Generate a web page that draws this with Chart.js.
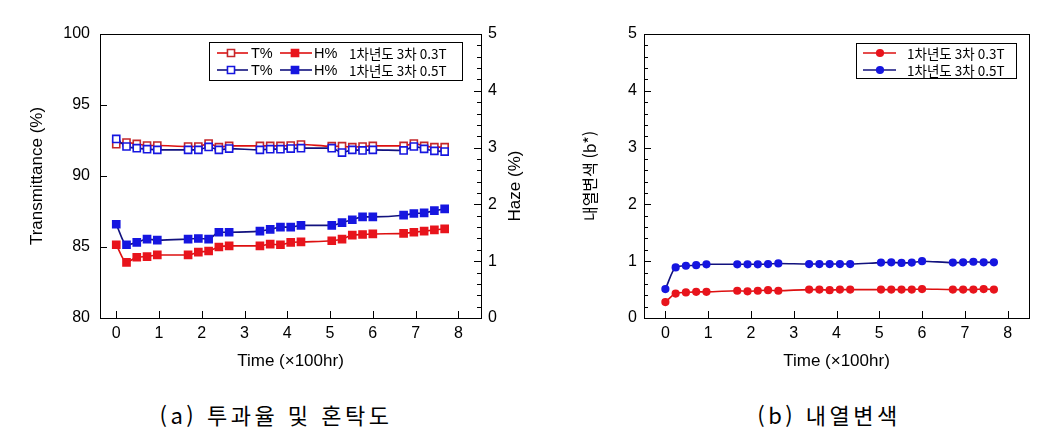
<!DOCTYPE html>
<html lang="ko">
<head>
<meta charset="UTF-8" />
<title>투과율 및 혼탁도 / 내열변색</title>
<script src="https://cdn.jsdelivr.net/npm/chart.js@4.4.0/dist/chart.umd.min.js"></script>
<style>
  body { margin: 0; background: #fff; width: 1052px; height: 446px; position: relative; overflow: hidden; }
  .box { position: absolute; top: 0; height: 380px; }
  .cap { position: absolute; top: 398px; font-family: "Noto Sans CJK KR"; font-size: 22px; letter-spacing: 3.5px;
         transform: translateX(-50%); white-space: nowrap; color: #000; }
</style>
</head>
<body>
<div class="box" style="left:0;width:540px"><canvas id="chartA"></canvas></div>
<div class="box" style="left:540px;width:512px"><canvas id="chartB"></canvas></div>
<div class="cap" style="left:276px">(a) 투과율 및 혼탁도</div>
<div class="cap" style="left:829px">(b) 내열변색</div>

<script>
// time in x100 hr
const time = [0, 0.24, 0.48, 0.72, 0.96, 1.68, 1.92, 2.16, 2.4, 2.64, 3.36, 3.6, 3.84, 4.08, 4.32,
              5.04, 5.28, 5.52, 5.76, 6.0, 6.72, 6.96, 7.2, 7.44, 7.68];
const seriesNames = ['1차년도 3차 0.3T', '1차년도 3차 0.5T'];

// (a) transmittance (%) and haze (%)
const trans03 = [92.24, 92.36, 92.26, 92.15, 92.15, 92.08, 92.08, 92.29, 92.03, 92.12, 92.12, 92.12, 92.12,
                 92.15, 92.22, 92.10, 92.10, 92.03, 92.08, 92.12, 92.12, 92.29, 92.12, 92.03, 92.03];
const trans05 = [92.61, 92.08, 91.96, 91.89, 91.84, 91.84, 91.84, 92.05, 91.84, 91.93, 91.84, 91.89, 91.89,
                 91.93, 91.96, 91.96, 91.65, 91.84, 91.80, 91.84, 91.80, 92.08, 91.91, 91.77, 91.72];
const haze03 = [1.29, 0.98, 1.07, 1.08, 1.11, 1.11, 1.16, 1.18, 1.25, 1.27, 1.27, 1.30, 1.29, 1.33, 1.34,
                1.36, 1.39, 1.46, 1.47, 1.48, 1.49, 1.51, 1.53, 1.55, 1.57];
const haze05 = [1.65, 1.29, 1.33, 1.39, 1.37, 1.39, 1.40, 1.39, 1.51, 1.51, 1.53, 1.56, 1.60, 1.60, 1.63,
                1.63, 1.68, 1.73, 1.78, 1.78, 1.81, 1.84, 1.85, 1.89, 1.92];

// (b) heat discoloration (b*)
const bstar03 = [0.28, 0.43, 0.45, 0.46, 0.46, 0.48, 0.47, 0.48, 0.49, 0.48, 0.50, 0.50, 0.49, 0.50, 0.50,
                 0.50, 0.50, 0.50, 0.50, 0.51, 0.50, 0.50, 0.50, 0.51, 0.50];
const bstar05 = [0.51, 0.89, 0.92, 0.93, 0.945, 0.945, 0.945, 0.945, 0.95, 0.96, 0.95, 0.95, 0.95, 0.95, 0.95,
                 0.975, 0.98, 0.97, 0.975, 1.0, 0.975, 0.98, 0.99, 0.98, 0.98];

const timeTicks = [0, 1, 2, 3, 4, 5, 6, 7, 8];
const transTicks = [80, 85, 90, 95, 100];
const hazeTicks = [0, 1, 2, 3, 4, 5];
const bstarTicks = [0, 1, 2, 3, 4, 5];

const RED = '#e8141c', RED_LINE = '#dd1010', RED_DARK = '#c4262a';
const BLUE = '#1616e0', NAVY = '#12127e';
const FONT = 'Liberation Sans';

const pts = (xs, ys) => xs.map((x, i) => ({ x: x, y: ys[i] }));

// frame + inward tick marks (major from scale ticks, minor every `minor`)
const frameTicks = {
  id: 'frameTicks',
  afterDraw(chart, args, opts) {
    const { ctx, chartArea: a } = chart;
    ctx.save();
    ctx.strokeStyle = '#000';
    ctx.lineWidth = 1;
    ctx.strokeRect(Math.round(a.left) + 0.5, Math.round(a.top) + 0.5,
                   Math.round(a.right - a.left), Math.round(a.bottom - a.top));
    ctx.beginPath();
    (opts.marks || []).forEach(m => {
      const s = chart.scales[m.axis];
      const draw = (v, len) => {
        const p = Math.round(s.getPixelForValue(v)) + 0.5;
        if (m.side === 'bottom') { ctx.moveTo(p, a.bottom); ctx.lineTo(p, a.bottom - len); }
        else if (m.side === 'left') { ctx.moveTo(a.left, p); ctx.lineTo(a.left + len, p); }
        else { ctx.moveTo(a.right, p); ctx.lineTo(a.right - len, p); }
      };
      s.ticks.forEach(t => draw(t.value, 7));
      if (m.minor) {
        const n = Math.round((s.max - s.min) / m.minor);
        for (let i = 0; i <= n; i++) draw(s.min + i * m.minor, 4);
      }
    });
    ctx.stroke();
    // extra rotated titles (read bottom-to-top)
    (opts.titles || []).forEach(t => {
      ctx.save();
      ctx.translate(t.x, t.y);
      ctx.rotate(-Math.PI / 2);
      ctx.fillStyle = '#000';
      ctx.font = t.size + 'px "' + FONT + '"';
      ctx.textAlign = 'center';
      ctx.textBaseline = 'middle';
      ctx.fillText(t.text, 0, 0);
      ctx.restore();
    });
    ctx.restore();
  }
};

// boxed legend built from dataset styles
const boxLegend = {
  id: 'boxLegend',
  afterDraw(chart, args, o) {
    const ctx = chart.ctx;
    ctx.save();
    ctx.fillStyle = '#fff';
    ctx.fillRect(o.x, o.y, o.w, o.h);
    ctx.strokeStyle = '#000';
    ctx.lineWidth = 1;
    ctx.strokeRect(o.x + 0.5, o.y + 0.5, o.w, o.h);
    ctx.textBaseline = 'middle';
    o.rows.forEach((row, r) => {
      const y = o.y + o.rowY[r];
      row.forEach(it => {
        ctx.fillStyle = '#000';
        if (it.ds === undefined) {
          ctx.font = o.fontSize + 'px "Noto Sans CJK KR"';
          ctx.fillText(it.text, it.tx, y + 1);
          return;
        }
        const ds = chart.data.datasets[it.ds];
        ctx.strokeStyle = ds.borderColor;
        ctx.lineWidth = ds.borderWidth;
        ctx.beginPath(); ctx.moveTo(it.x0, y); ctx.lineTo(it.x1, y); ctx.stroke();
        ctx.fillStyle = ds.pointBackgroundColor;
        ctx.strokeStyle = ds.pointBorderColor;
        ctx.lineWidth = ds.pointBorderWidth;
        ctx.beginPath();
        if (ds.pointStyle === 'rect') {
          const h = ds.pointRadius * Math.SQRT1_2;
          ctx.rect(it.m - h, y - h, 2 * h, 2 * h);
        } else {
          ctx.arc(it.m, y, ds.pointRadius, 0, Math.PI * 2);
        }
        ctx.fill(); ctx.stroke();
        if (it.text) {
          ctx.fillStyle = '#000';
          ctx.font = (o.fontSize + 1) + 'px "' + FONT + '"';
          ctx.fillText(it.text, it.tx, y + 1);
        }
      });
    });
    ctx.restore();
  }
};

const tickFont = { family: '"Liberation Sans", Arial, sans-serif', size: 16 };
const titleFont = { family: '"Liberation Sans", Arial, sans-serif', size: 17 };
const setTicks = arr => s => { s.ticks = arr.map(v => ({ value: v })); };

function axis(extra) {
  return Object.assign({
    type: 'linear',
    grid: { display: false, drawTicks: false },
    border: { display: false },
    ticks: { color: '#000', font: tickFont, callback: v => String(v) }
  }, extra);
}

function lineSet(label, data, line, marker, fill, style, radius, yAxis, order) {
  return {
    label: label, data: data, yAxisID: yAxis, order: order,
    borderColor: line, borderWidth: 1.6,
    pointStyle: style, pointRadius: radius, pointHoverRadius: radius,
    pointBackgroundColor: fill, pointBorderColor: marker, pointBorderWidth: 1.6,
    cubicInterpolationMode: 'monotone', fill: false
  };
}

Chart.defaults.animation = false;

new Chart(document.getElementById('chartA'), {
  type: 'line',
  data: {
    datasets: [
      lineSet('T% ' + seriesNames[0], pts(time, trans03), RED_LINE, RED_DARK, '#fff', 'rect', 5, 'y', 4),
      lineSet('H% ' + seriesNames[0], pts(time, haze03), RED_LINE, RED, RED, 'rect', 5, 'y2', 3),
      lineSet('T% ' + seriesNames[1], pts(time, trans05), NAVY, BLUE, '#fff', 'rect', 5, 'y', 2),
      lineSet('H% ' + seriesNames[1], pts(time, haze05), NAVY, BLUE, BLUE, 'rect', 5, 'y2', 1)
    ]
  },
  plugins: [frameTicks, boxLegend],
  options: {
    responsive: true, maintainAspectRatio: false,
    layout: { padding: { top: 34, left: 0, right: 0, bottom: 0 } },
    scales: {
      x: axis({ position: 'bottom', min: -0.38, max: 8.53,
        afterFit: s => { s.height = 62; }, afterBuildTicks: setTicks(timeTicks),
        ticks: { color: '#000', font: tickFont, padding: 6, callback: v => String(v) },
        title: { display: true, text: 'Time (×100hr)', color: '#000', font: titleFont, padding: { top: 0, bottom: 8 } } }),
      y: axis({ position: 'left', min: 80, max: 100,
        afterFit: s => { s.width = 100; }, afterBuildTicks: setTicks(transTicks),
        ticks: { color: '#000', font: tickFont, padding: 10, callback: v => String(v) },
        title: { display: true, text: 'Transmittance (%)', color: '#000', font: titleFont, padding: { top: 27, bottom: 0 } } }),
      y2: axis({ position: 'right', min: 0, max: 5,
        afterFit: s => { s.width = 59; }, afterBuildTicks: setTicks(hazeTicks),
        ticks: { color: '#000', font: tickFont, padding: 7, callback: v => String(v) } })
    },
    plugins: {
      legend: { display: false },
      tooltip: { enabled: false },
      frameTicks: {
        marks: [{ axis: 'x', side: 'bottom' }, { axis: 'y', side: 'left' }, { axis: 'y2', side: 'right', minor: 0.2 }],
        titles: [{ text: 'Haze (%)', x: 515, y: 186, size: 17 }]
      },
      boxLegend: {
        x: 209, y: 42, w: 253, h: 38, rowY: [11, 28], fontSize: 13.5,
        rows: [
          [{ ds: 0, x0: 217, x1: 248, m: 231, text: 'T%', tx: 251 },
           { ds: 1, x0: 280, x1: 312, m: 295, text: 'H%', tx: 314 },
           { text: seriesNames[0], tx: 349 }],
          [{ ds: 2, x0: 217, x1: 248, m: 231, text: 'T%', tx: 251 },
           { ds: 3, x0: 280, x1: 312, m: 295, text: 'H%', tx: 314 },
           { text: seriesNames[1], tx: 349 }]
        ]
      }
    }
  }
});

new Chart(document.getElementById('chartB'), {
  type: 'line',
  data: {
    datasets: [
      lineSet(seriesNames[0], pts(time, bstar03), RED_LINE, RED, RED, 'circle', 3.3, 'y', 2),
      lineSet(seriesNames[1], pts(time, bstar05), NAVY, BLUE, BLUE, 'circle', 3.3, 'y', 1)
    ]
  },
  plugins: [frameTicks, boxLegend],
  options: {
    responsive: true, maintainAspectRatio: false,
    layout: { padding: { top: 34, left: 0, right: 23, bottom: 0 } },
    scales: {
      x: axis({ position: 'bottom', min: -0.5, max: 8.5,
        afterFit: s => { s.height = 62; }, afterBuildTicks: setTicks(timeTicks),
        ticks: { color: '#000', font: tickFont, padding: 6, callback: v => String(v) },
        title: { display: true, text: 'Time (×100hr)', color: '#000', font: titleFont, padding: { top: 0, bottom: 8 } } }),
      y: axis({ position: 'left', min: 0, max: 5,
        afterFit: s => { s.width = 104; }, afterBuildTicks: setTicks(bstarTicks),
        ticks: { color: '#000', font: tickFont, padding: 7, callback: v => String(v) },
        title: { display: true, text: '내열변색 (b*)', color: '#000',
                 font: { family: 'Noto Sans CJK KR', size: 16 }, padding: { top: 40, bottom: 0 } } })
    },
    plugins: {
      legend: { display: false },
      tooltip: { enabled: false },
      frameTicks: { marks: [{ axis: 'x', side: 'bottom' }, { axis: 'y', side: 'left', minor: 0.2 }] },
      boxLegend: {
        x: 316, y: 43, w: 160, h: 35, rowY: [10, 27], fontSize: 13.5,
        rows: [
          [{ ds: 0, x0: 323, x1: 356, m: 340 }, { text: seriesNames[0], tx: 367 }],
          [{ ds: 1, x0: 323, x1: 356, m: 340 }, { text: seriesNames[1], tx: 367 }]
        ]
      }
    }
  }
});
</script>
</body>
</html>
